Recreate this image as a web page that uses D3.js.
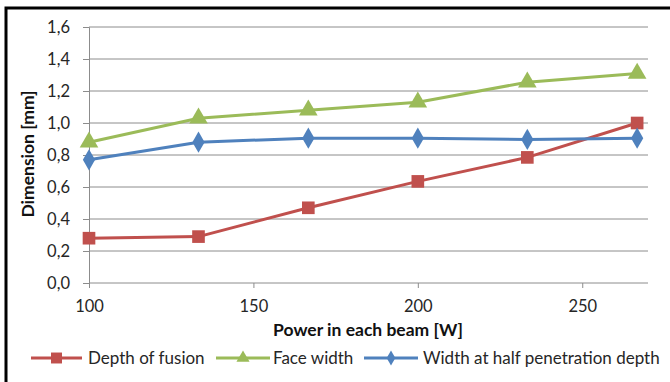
<!DOCTYPE html>
<html><head><meta charset="utf-8">
<script src="https://cdn.jsdelivr.net/npm/d3@7"></script>
<style>body{margin:0;background:#fff;} svg{display:block;}</style>
</head><body>
<svg id="c" width="670" height="382"></svg>
<script>
const power = [100, 133.3, 166.7, 200, 233.3, 266.7];
const depthOfFusion = [0.28, 0.29, 0.47, 0.635, 0.785, 1.0];
const faceWidth = [0.88, 1.03, 1.08, 1.13, 1.255, 1.31];
const widthHalfDepth = [0.77, 0.88, 0.905, 0.905, 0.897, 0.905];
const xTicks = [100, 150, 200, 250];
const yTicks = [0, 0.2, 0.4, 0.6, 0.8, 1.0, 1.2, 1.4, 1.6];
const seriesNames = ["Depth of fusion", "Face width", "Width at half penetration depth"];

const font = "Lato, 'Open Sans', sans-serif";
const svg = d3.select("#c");
svg.append("rect").attr("x", 6).attr("y", 8).attr("width", 700).attr("height", 400)
  .attr("fill", "#fff").attr("stroke", "#000").attr("stroke-width", 3);

const x = d3.scaleLinear().domain([100, 270]).range([89, 648]);
const y = d3.scaleLinear().domain([0, 1.6]).range([283, 27]);

// gridlines
svg.append("g").selectAll("line").data(yTicks.slice(1)).join("line")
  .attr("x1", 89).attr("x2", 648).attr("y1", d => y(d)).attr("y2", d => y(d))
  .attr("stroke", "#8c8c8c").attr("stroke-width", 1);

const fmt = d => d3.format(".1f")(d).replace(".", ",");
const yAxis = svg.append("g").attr("transform", "translate(89,0)")
  .call(d3.axisLeft(y).tickValues(yTicks).tickFormat(fmt).tickSize(6).tickPadding(13));
const xAxis = svg.append("g").attr("transform", "translate(0,283)")
  .call(d3.axisBottom(x).tickValues(xTicks).tickSize(5).tickPadding(12));
[yAxis, xAxis].forEach(a => {
  a.selectAll("path.domain").attr("stroke", "#8c8c8c").attr("stroke-width", 1);
  a.selectAll(".tick line").attr("stroke", "#8c8c8c");
  a.selectAll("text").attr("font-family", font).attr("font-size", 16.5).attr("fill", "#262626");
});
xAxis.select("path.domain").attr("d", "M89,0H648");

svg.append("text").attr("x", 368).attr("y", 336).attr("text-anchor", "middle")
  .attr("font-family", font).attr("font-weight", "bold").attr("font-size", 17.5).attr("fill", "#111")
  .text("Power in each beam [W]");
svg.append("text").attr("transform", "translate(34,154) rotate(-90)").attr("text-anchor", "middle")
  .attr("font-family", font).attr("font-weight", "bold").attr("font-size", 17.5).attr("fill", "#111")
  .text("Dimension [mm]");

const colors = ["#C0504D", "#9BBB59", "#4F81BD"];
const symbols = [d3.symbolSquare, d3.symbolTriangle, d3.symbolDiamond];
const symSize = [160, 150, 130];
const data = [depthOfFusion, faceWidth, widthHalfDepth];
const line = d3.line().x((d, i) => x(power[i])).y(d => y(d));
const order = [0, 1, 2];
order.forEach(k => {
  svg.append("path").datum(data[k]).attr("d", line).attr("fill", "none")
    .attr("stroke", colors[k]).attr("stroke-width", 3).attr("stroke-linejoin", "round");
});
order.forEach(k => {
  svg.append("g").selectAll("path").data(data[k]).join("path")
    .attr("transform", (d, i) => `translate(${x(power[i])},${y(d)})`)
    .attr("d", d3.symbol().type(symbols[k]).size(symSize[k]))
    .attr("fill", colors[k]);
});

// legend
const leg = [{x1: 31, x2: 82, tx: 88}, {x1: 216, x2: 270, tx: 273}, {x1: 364, x2: 418, tx: 423}];
leg.forEach((l, k) => {
  const g = svg.append("g");
  g.append("line").attr("x1", l.x1).attr("x2", l.x2).attr("y1", 358).attr("y2", 358)
    .attr("stroke", colors[k]).attr("stroke-width", 3);
  g.append("path").attr("transform", `translate(${(l.x1 + l.x2) / 2},358)`)
    .attr("d", d3.symbol().type(symbols[k]).size(symSize[k] * (k === 0 ? 0.75 : 0.5))).attr("fill", colors[k]);
  g.append("text").attr("x", l.tx).attr("y", 364).attr("font-family", font).attr("font-size", 17)
    .attr("fill", "#262626").text(seriesNames[k]);
});
</script>
</body></html>
